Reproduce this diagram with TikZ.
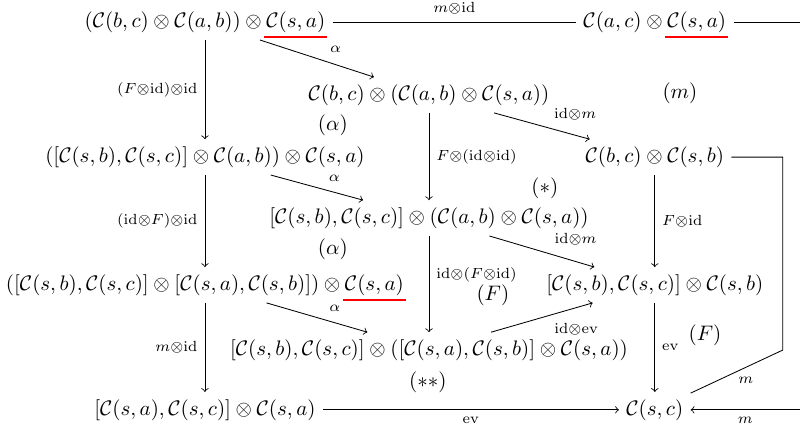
\documentclass[tikz,border=0pt]{standalone}
\usepackage{amsmath,amssymb}
\usetikzlibrary{arrows}
\newcommand{\cC}{\mathcal{C}}
\newcommand{\idm}{\mathrm{id}}
\newcommand{\evm}{\mathrm{ev}}
\newsavebox{\ulbox}
\newcommand{\redul}[1]{\sbox{\ulbox}{$#1$}\makebox[0pt][l]{\hspace{-1pt}\smash{\textcolor{red}{\rule[-5.2pt]{\dimexpr\wd\ulbox+2pt\relax}{1pt}}}}\usebox{\ulbox}}

\begin{document}
\begin{tikzpicture}[>=to,
  obj/.style={inner sep=3.33pt},
  map/.style={->},
  lab/.style={execute at begin node={$\scriptstyle},execute at end node={$}}]
\useasboundingbox (0,0) rectangle (13.39,-7.20);

% objects
\node[obj] (A1) at (3.43,-0.37) {$(\cC(b,c)\otimes\cC(a,b))\otimes\redul{\cC(s,a)}$};
\node[obj] (C1) at (10.96,-0.37) {$\cC(a,c)\otimes\redul{\cC(s,a)}$};
\node[obj] (B2) at (7.18,-1.59) {$\cC(b,c)\otimes(\cC(a,b)\otimes\cC(s,a))$};
\node[obj] (A3) at (3.43,-2.63) {$([\cC(s,b),\cC(s,c)]\otimes\cC(a,b))\otimes\cC(s,a)$};
\node[obj] (C3) at (10.96,-2.63) {$\cC(b,c)\otimes\cC(s,b)$};
\node[obj] (B4) at (7.18,-3.65) {$[\cC(s,b),\cC(s,c)]\otimes(\cC(a,b)\otimes\cC(s,a))$};
\node[obj] (A5) at (3.43,-4.77) {$([\cC(s,b),\cC(s,c)]\otimes[\cC(s,a),\cC(s,b)])\otimes\redul{\cC(s,a)}$};
\node[obj] (C5) at (10.96,-4.77) {$[\cC(s,b),\cC(s,c)]\otimes\cC(s,b)$};
\node[obj] (B6) at (7.18,-5.86) {$[\cC(s,b),\cC(s,c)]\otimes([\cC(s,a),\cC(s,b)]\otimes\cC(s,a))$};
\node[obj] (A7) at (3.43,-6.86) {$[\cC(s,a),\cC(s,c)]\otimes\cC(s,a)$};
\node[obj] (C7) at (10.96,-6.86) {$\cC(s,c)$};

% cells
\node (cm) at (11.38,-1.56) {$(m)$};
\node (ca1) at (5.57,-2.09) {$(\alpha)$};
\node (cst) at (9.12,-3.15) {$(*)$};
\node (ca2) at (5.57,-4.18) {$(\alpha)$};
\node (cF1) at (8.25,-4.95) {$(F)$};
\node (cF2) at (11.80,-5.61) {$(F)$};
\node (cst2) at (7.16,-6.39) {$(**)$};

% loose ends on the right
\coordinate (eR1) at (13.39,-0.37);
\coordinate (kR1) at (13.10,-2.63);
\coordinate (kR2) at (13.10,-5.86);
\coordinate (eR2) at (13.39,-6.86);

% left column
\draw[map] (A1) -- node[lab,left] {(F\otimes\idm)\otimes\idm} (A3);
\draw[map] (A3) -- node[lab,left] {(\idm\otimes F)\otimes\idm} (A5);
\draw[map] (A5) -- node[lab,left] {m\otimes\idm} (A7);

% middle column
\draw[map] (B2) -- node[lab,right] {F\otimes(\idm\otimes\idm)} (B4);
\draw[map] (B4) -- node[lab,right,pos=.4] {\idm\otimes(F\otimes\idm)} (B6);

% right column
\draw[map] (C3) -- node[lab,right] {F\otimes\idm} (C5);
\draw[map] (C5) -- node[lab,right] {\evm} (C7);

% diagonals
\draw[map] (A1) -- node[lab,above right,pos=.55] {\alpha} (B2);
\draw[map] (A3) -- node[lab,above right,pos=.55] {\alpha} (B4);
\draw[map] (A5) -- node[lab,above right,pos=.55] {\alpha} (B6);
\draw[map] (B2) -- node[lab,above right,pos=.55] {\idm\otimes m} (C3);
\draw[map] (B4) -- node[lab,above right,pos=.55] {\idm\otimes m} (C5);
\draw[map] (B6) -- node[lab,below right,pos=.55] {\idm\otimes\evm} (C5);

% horizontals
\draw (A1) -- node[lab,above] {m\otimes\idm} (C1);
\draw (C1) -- (eR1);
\draw[map] (A7) -- node[lab,below] {\evm} (C7);
\draw[map] (eR2) -- node[lab,below] {m} (C7);
\draw (C3) -- (kR1) -- (kR2) -- node[lab,below=1pt,pos=.4] {m} (C7);

\end{tikzpicture}
\end{document}
